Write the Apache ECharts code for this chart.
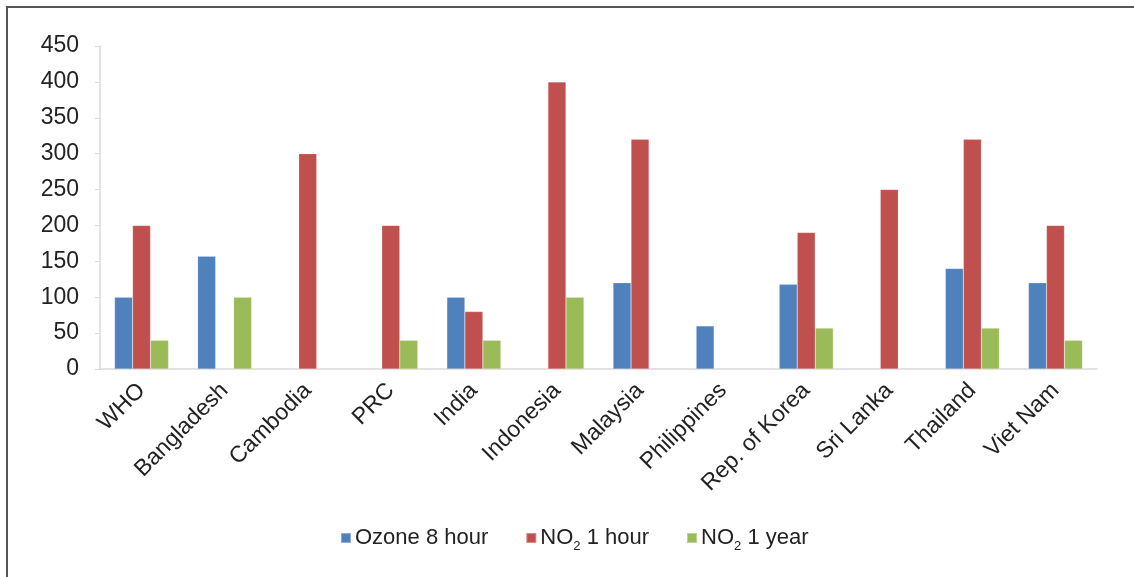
<!DOCTYPE html>
<html>
<head>
<meta charset="utf-8">
<script src="https://cdn.jsdelivr.net/npm/echarts@6/dist/echarts.min.js"></script>
<style>
  html, body { margin: 0; padding: 0; background: #fff; overflow: hidden; }
  .frame {
    position: absolute; left: 6px; top: 6px;
    width: 1140px; height: 580px;
    border: 2px solid #555; box-sizing: border-box;
  }
  #chart { position: absolute; left: 0; top: 0; width: 1134px; height: 577px; }
</style>
</head>
<body>
<div class="frame"></div>
<div id="chart"></div>
<script>
// categories and series values
const countries = ['WHO', 'Bangladesh', 'Cambodia', 'PRC', 'India', 'Indonesia',
  'Malaysia', 'Philippines', 'Rep. of Korea', 'Sri Lanka', 'Thailand', 'Viet Nam']
const ozone8h = [100, 157, null, null, 100, null, 120, 60, 118, null, 140, 120]
const no2Hour = [200, null, 300, 200, 80, 400, 320, null, 190, 250, 320, 200]
const no2Year = [40, 100, null, 40, 40, 100, null, null, 57, null, 57, 40]
const yTicks = [0, 450, 50] // min, max, step

const chart = echarts.init(document.getElementById('chart'))

const textFont = 'Liberation Sans, Arial, sans-serif'

const legendRich = {
  t: { fontSize: 22, color: '#222', fontFamily: textFont },
  sub: { fontSize: 13, color: '#222', fontFamily: textFont, verticalAlign: 'bottom', padding: [17, 0, 0, 0] }
}

const makeBar = (name, data, color) => ({
  name,
  type: 'bar',
  data,
  barWidth: 18,
  barGap: '0%',
  itemStyle: { color, borderColor: 'rgba(255,255,255,0.35)', borderWidth: 0.5 },
  emphasis: { disabled: true }
})

chart.setOption({
  animation: false,
  textStyle: { fontFamily: textFont },
  grid: { left: 100, right: 37, top: 46, bottom: 208, containLabel: false },
  legend: {
    top: 522,
    left: 335,
    itemWidth: 10,
    itemHeight: 10,
    itemGap: 37,
    icon: 'rect',
    data: ['Ozone 8 hour', 'NO2 1 hour', 'NO2 1 year'],
    formatter: name => {
      if (name.startsWith('NO2')) {
        return '{t|NO}{sub|2}{t|' + name.slice(3) + '}'
      }
      return '{t|' + name + '}'
    },
    textStyle: { rich: legendRich, padding: [0, 0, 0, -1] }
  },
  xAxis: {
    type: 'category',
    data: countries,
    axisLine: { show: true, lineStyle: { color: '#d9d9d9', width: 1.5 } },
    axisTick: { show: false },
    axisLabel: {
      interval: 0,
      rotate: 45,
      fontSize: 23,
      color: '#222',
      margin: 18
    }
  },
  yAxis: {
    type: 'value',
    min: yTicks[0],
    max: yTicks[1],
    interval: yTicks[2],
    axisLine: { show: true, lineStyle: { color: '#d9d9d9', width: 1.5 } },
    axisTick: { show: true, length: 5, lineStyle: { color: '#d9d9d9' } },
    splitLine: { show: false },
    axisLabel: { fontSize: 23, color: '#222', margin: 21 }
  },
  series: [
    makeBar('Ozone 8 hour', ozone8h, '#4F81BD'),
    makeBar('NO2 1 hour', no2Hour, '#C0504D'),
    makeBar('NO2 1 year', no2Year, '#9BBB59')
  ]
})
</script>
</body>
</html>
